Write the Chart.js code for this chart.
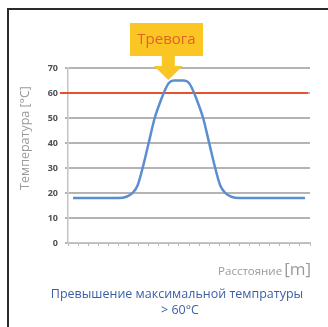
<!DOCTYPE html>
<html>
<head>
<meta charset="utf-8">
<style>
html,body{margin:0;padding:0;background:#fff;}
#wrap{position:relative;width:328px;height:327px;}
</style>
<script src="https://cdn.jsdelivr.net/npm/chart.js@4.4.0/dist/chart.umd.min.js"></script>
</head>
<body>
<div id="wrap"><canvas id="c" width="328" height="327"></canvas></div>
<script>
// ---- data ----
const distance = [0.5, 5, 5.8, 6.4, 6.9, 7.4, 8.0, 8.6, 9.2, 9.6, 10.0, 10.5, 11.5, 12.0, 12.4, 12.8, 13.4, 14.0, 14.6, 15.1, 15.6, 16.2, 17.0, 23.5];
const temperature = [18, 18, 18.5, 20, 23, 30, 40, 50, 57, 61, 64, 65, 65, 64, 61, 57, 50, 40, 30, 23, 20, 18.5, 18, 18];
const alarmX = [-0.8, 23.8];
const alarmY = [60, 60];
const yTicks = [0, 10, 20, 30, 40, 50, 60, 70];
const alarmLabel = 'Тревога';
const yTitle = 'Температура [°C]';
const xTitle = 'Расстояние';
const xUnit = '[m]';
const caption1 = 'Превышение максимальной темпратуры';
const caption2 = '> 60°C';

const FONT = '"Open Sans", "Noto Sans", sans-serif';

const decor = {
  id: 'decor',
  afterDraw(chart) {
    const ctx = chart.ctx;
    const xs = chart.scales.x;
    ctx.save();
    // frame
    ctx.fillStyle = '#2b2b2b';
    ctx.fillRect(7, 8, 321, 2);
    ctx.fillRect(7, 8, 2, 319);
    // y title
    ctx.save();
    ctx.translate(25, 138);
    ctx.rotate(-Math.PI / 2);
    ctx.fillStyle = '#9a9a9a';
    ctx.font = '12.5px ' + FONT;
    ctx.textAlign = 'center';
    ctx.textBaseline = 'middle';
    ctx.fillText(yTitle, 0, 0);
    ctx.restore();
    // x title
    ctx.fillStyle = '#9a9a9a';
    ctx.textBaseline = 'alphabetic';
    ctx.textAlign = 'right';
    ctx.font = '17px ' + FONT;
    const uw = ctx.measureText(xUnit).width;
    ctx.fillText(xUnit, 311, 275);
    ctx.font = '11.5px ' + FONT;
    ctx.fillText(xTitle, 311 - uw - 2, 275);
    // caption
    ctx.fillStyle = '#3b5fa6';
    ctx.textAlign = 'center';
    ctx.font = '500 12.5px ' + FONT;
    ctx.fillText(caption1, 177, 298);
    ctx.fillText(caption2, 180, 314);
    // alarm box
    const cx = xs.getPixelForValue(9.9);
    ctx.fillStyle = '#f9c623';
    ctx.fillRect(130, 23, 73, 33);
    ctx.fillRect(cx - 6, 55, 13, 12);
    ctx.beginPath();
    ctx.moveTo(cx - 14, 66);
    ctx.lineTo(cx + 15, 66);
    ctx.lineTo(cx + 0.5, 80);
    ctx.closePath();
    ctx.fill();
    ctx.fillStyle = '#e6602a';
    ctx.font = '15px ' + FONT;
    ctx.textBaseline = 'middle';
    ctx.fillText(alarmLabel, 166.5, 40);
    ctx.restore();
  }
};

new Chart(document.getElementById('c'), {
  type: 'line',
  data: {
    datasets: [
      {
        data: distance.map((x, i) => ({x: x, y: temperature[i]})),
        borderColor: '#5b8ed0',
        borderWidth: 2.5,
        pointRadius: 0,
        cubicInterpolationMode: 'monotone',
        fill: false
      },
      {
        data: alarmX.map((x, i) => ({x: x, y: alarmY[i]})),
        borderColor: '#e8502e',
        borderWidth: 2,
        pointRadius: 0,
        fill: false,
        clip: false
      }
    ]
  },
  options: {
    responsive: false,
    animation: false,
    devicePixelRatio: 1,
    layout: {padding: {left: 0, top: 68, right: 18, bottom: 0}},
    plugins: {legend: {display: false}, tooltip: {enabled: false}},
    scales: {
      x: {
        type: 'linear',
        min: 0,
        max: 24,
        afterFit(s) { s.height = 84; },
        grid: {drawOnChartArea: false, drawTicks: true, tickLength: 3, color: '#b8b8b8'},
        border: {color: '#c4c4c4', width: 1.5},
        ticks: {stepSize: 1, display: false}
      },
      y: {
        min: yTicks[0],
        max: yTicks[yTicks.length - 1],
        afterFit(s) { s.width = 68; },
        grid: {display: true, drawOnChartArea: true, drawTicks: true, tickLength: 3, color: '#b4b4b4', lineWidth: 2},
        border: {display: true, color: '#c4c4c4', width: 1.5},
        ticks: {
          stepSize: yTicks[1] - yTicks[0],
          padding: 7,
          color: '#505050',
          font: {family: FONT, size: 9, weight: 'bold'}
        }
      }
    }
  },
  plugins: [decor]
});
</script>
</body>
</html>
